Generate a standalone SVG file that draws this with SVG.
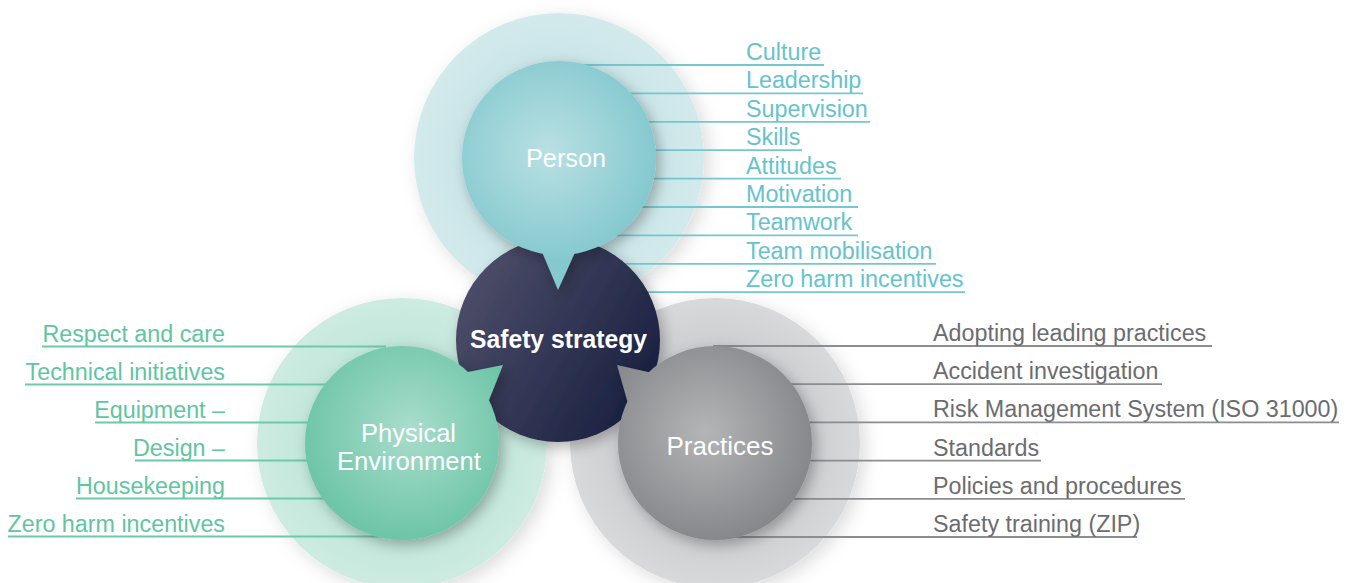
<svg xmlns="http://www.w3.org/2000/svg" width="1348" height="583" viewBox="0 0 1348 583">
<defs>
<style>
.lbl{font-family:"Liberation Sans",Arial,sans-serif;font-size:23.3px}
.t-teal{fill:#66c3cc}
.t-green{fill:#5fc5a2}
.t-gray{fill:#6b6c6f}
.ln{stroke-width:1.8;fill:none}
.l-teal{stroke:#74c7cf}
.l-green{stroke:#6ccaa8}
.l-gray{stroke:#8c8d90}
.ctr{font-family:"Liberation Sans",Arial,sans-serif;font-size:26px;fill:#ffffff;text-anchor:middle}
</style>
<filter id="sh" x="-30%" y="-30%" width="160%" height="160%">
<feDropShadow dx="4" dy="5" stdDeviation="7" flood-color="#000" flood-opacity="0.28"/>
</filter>
<filter id="shOuter" x="-30%" y="-30%" width="160%" height="160%">
<feDropShadow dx="5" dy="5" stdDeviation="9" flood-color="#000" flood-opacity="0.14"/>
</filter>
<radialGradient id="gPersonIn" gradientUnits="userSpaceOnUse" cx="548" cy="152" r="108">
<stop offset="0" stop-color="#b9e0e3"/><stop offset="1" stop-color="#85c9cf"/>
</radialGradient>
<radialGradient id="gGreenIn" gradientUnits="userSpaceOnUse" cx="410" cy="430" r="108">
<stop offset="0" stop-color="#a9ddcc"/><stop offset="1" stop-color="#6ec5a8"/>
</radialGradient>
<radialGradient id="gGrayIn" gradientUnits="userSpaceOnUse" cx="705" cy="432" r="108">
<stop offset="0" stop-color="#b4b5b7"/><stop offset="1" stop-color="#87888b"/>
</radialGradient>
<radialGradient id="gPersonOut" cx="0.5" cy="0.5" r="0.5">
<stop offset="0.6" stop-color="#c8e4e7"/><stop offset="1" stop-color="#d3eaec"/>
</radialGradient>
<radialGradient id="gGreenOut" cx="0.5" cy="0.5" r="0.5">
<stop offset="0.6" stop-color="#c1e6da"/><stop offset="1" stop-color="#cdebe1"/>
</radialGradient>
<radialGradient id="gGrayOut" cx="0.5" cy="0.5" r="0.5">
<stop offset="0.6" stop-color="#cbcccf"/><stop offset="1" stop-color="#d8d9db"/>
</radialGradient>
<linearGradient id="gDark" x1="0" y1="0" x2="1" y2="0.6">
<stop offset="0" stop-color="#53536f"/><stop offset="1" stop-color="#1c2242"/>
</linearGradient>
</defs>
<rect width="1348" height="583" fill="#ffffff"/>

<g id="halos">
<circle cx="559" cy="158" r="145" fill="url(#gPersonOut)" filter="url(#shOuter)"/>
<circle cx="402" cy="443" r="145" fill="url(#gGreenOut)" filter="url(#shOuter)"/>
<circle cx="715" cy="443" r="145" fill="url(#gGrayOut)" filter="url(#shOuter)"/>
</g>

<g id="connectors">
<line class="ln l-teal" x1="559" y1="65" x2="824" y2="65"/>
<line class="ln l-teal" x1="559" y1="93.4" x2="863" y2="93.4"/>
<line class="ln l-teal" x1="559" y1="121.8" x2="870" y2="121.8"/>
<line class="ln l-teal" x1="559" y1="150.2" x2="802" y2="150.2"/>
<line class="ln l-teal" x1="559" y1="178.6" x2="841" y2="178.6"/>
<line class="ln l-teal" x1="559" y1="207" x2="858" y2="207"/>
<line class="ln l-teal" x1="559" y1="235.4" x2="858" y2="235.4"/>
<line class="ln l-teal" x1="559" y1="263.8" x2="936" y2="263.8"/>
<line class="ln l-teal" x1="559" y1="292.2" x2="965" y2="292.2"/>

<line class="ln l-green" x1="42" y1="346.5" x2="386" y2="346.5"/>
<line class="ln l-green" x1="25" y1="384.5" x2="402" y2="384.5"/>
<line class="ln l-green" x1="95" y1="422.5" x2="402" y2="422.5"/>
<line class="ln l-green" x1="135" y1="460.5" x2="402" y2="460.5"/>
<line class="ln l-green" x1="76" y1="498.5" x2="402" y2="498.5"/>
<line class="ln l-green" x1="8" y1="536.5" x2="402" y2="536.5"/>

<line class="ln l-gray" x1="713" y1="346" x2="1212" y2="346"/>
<line class="ln l-gray" x1="715" y1="384.2" x2="1162" y2="384.2"/>
<line class="ln l-gray" x1="715" y1="422.4" x2="1339" y2="422.4"/>
<line class="ln l-gray" x1="715" y1="460.6" x2="1041" y2="460.6"/>
<line class="ln l-gray" x1="715" y1="498.8" x2="1185" y2="498.8"/>
<line class="ln l-gray" x1="731" y1="537" x2="1137" y2="537"/>
</g>

<g id="node-safety">
<circle cx="558" cy="340" r="102" fill="url(#gDark)" filter="url(#sh)"/>
</g>

<g id="node-person" filter="url(#sh)">
<circle cx="559" cy="158" r="97" fill="url(#gPersonIn)"/>
<path d="M532 228 L586 228 L558 290 Z" fill="url(#gPersonIn)"/>
</g>

<g id="node-physical" filter="url(#sh)">
<circle cx="402" cy="443" r="97" fill="url(#gGreenIn)"/>
<path d="M433 379 L503 365 L475 435 Z" fill="url(#gGreenIn)"/>
</g>

<g id="node-practices" filter="url(#sh)">
<circle cx="715" cy="443" r="97" fill="url(#gGrayIn)"/>
<path d="M679 379 L617 365 L637 435 Z" fill="url(#gGrayIn)"/>
</g>

<g id="node-labels">
<text class="ctr" x="566" y="167" textLength="80" lengthAdjust="spacingAndGlyphs">Person</text>
<text class="ctr" x="558.5" y="348" font-weight="bold" font-size="27" textLength="177" lengthAdjust="spacingAndGlyphs">Safety strategy</text>
<text class="ctr" x="408.5" y="442" textLength="95" lengthAdjust="spacingAndGlyphs">Physical</text>
<text class="ctr" x="409" y="470" textLength="144" lengthAdjust="spacingAndGlyphs">Environment</text>
<text class="ctr" x="720" y="455" textLength="107" lengthAdjust="spacingAndGlyphs">Practices</text>
</g>

<g id="labels-person" class="lbl t-teal">
<text x="746" y="60">Culture</text>
<text x="746" y="88.4">Leadership</text>
<text x="746" y="116.8">Supervision</text>
<text x="746" y="145.2">Skills</text>
<text x="746" y="173.6">Attitudes</text>
<text x="746" y="202">Motivation</text>
<text x="746" y="230.4">Teamwork</text>
<text x="746" y="258.8">Team mobilisation</text>
<text x="746" y="287.2">Zero harm incentives</text>
</g>

<g id="labels-physical" class="lbl t-green" text-anchor="end">
<text x="225" y="341.5">Respect and care</text>
<text x="225" y="379.5">Technical initiatives</text>
<text x="225" y="417.5">Equipment –</text>
<text x="225" y="455.5">Design –</text>
<text x="225" y="493.5">Housekeeping</text>
<text x="225" y="531.5">Zero harm incentives</text>
</g>

<g id="labels-practices" class="lbl t-gray">
<text x="933" y="341">Adopting leading practices</text>
<text x="933" y="379.2">Accident investigation</text>
<text x="933" y="417.4">Risk Management System (ISO 31000)</text>
<text x="933" y="455.6">Standards</text>
<text x="933" y="493.8">Policies and procedures</text>
<text x="933" y="532">Safety training (ZIP)</text>
</g>
</svg>
